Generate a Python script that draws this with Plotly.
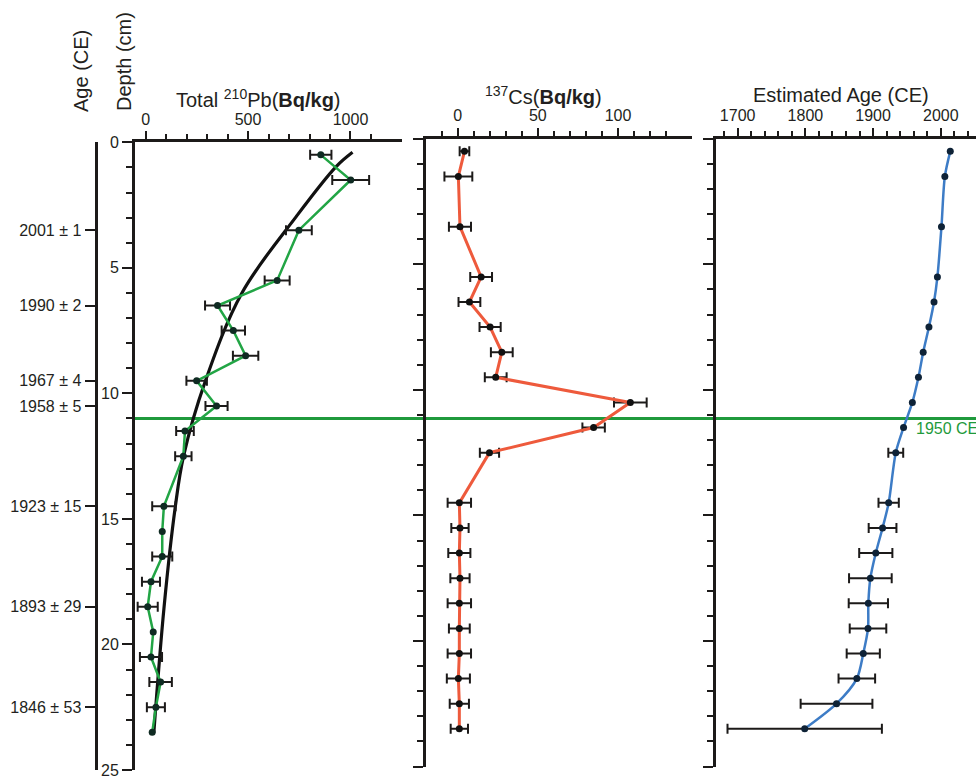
import plotly.graph_objects as go

# ---------------- data ----------------
depth_cm = [0.5, 1.5, 3.5, 5.5, 6.5, 7.5, 8.5, 9.5, 10.5, 11.5, 12.5,
            14.5, 15.5, 16.5, 17.5, 18.5, 19.5, 20.5, 21.5, 22.5, 23.5]

pb210 = [855, 1001, 748, 642, 351, 428, 488, 249, 346, 192, 184,
         89, 81, 81, 26, 10, 37, 26, 73, 50, 32]
pb210_err = [52, 90, 63, 61, 61, 57, 62, 50, 54, 43, 40,
             57, None, 49, 44, 49, None, 54, 55, 44, None]

pb_fit_depth = [0.4, 0.97, 2.96, 6.0, 9.5, 12.5, 14.5, 18.5, 23.5]
pb_fit_value = [1010, 930, 735, 470, 292, 185, 145, 90, 40]

cs137 = [4.2, 0.4, 1.4, 14.6, 7.3, 20.2, 27.5, 23.7, 107.7, 84.8, 19.8,
         1.0, 1.4, 1.0, 1.4, 1.0, 1.0, 1.0, 0.4, 1.0, 1.0]
cs137_err = [3, 8.7, 6.9, 6.8, 6.8, 6.6, 6.8, 6.8, 10.2, 7, 6,
             7.3, 5.4, 6.9, 6, 7.3, 6.5, 7.3, 7.2, 6, 5.4]

age_ce = [2014, 2006, 2001, 1995, 1990, 1982.5, 1974, 1967, 1958, 1945, 1933.5,
          1923, 1914, 1904, 1896, 1893, 1892.5, 1885.5, 1876, 1846, 1799]
age_err = [None, None, None, None, None, None, None, None, None, None, 11,
           15, 20.5, 24.5, 31.5, 29, 27, 24.5, 27, 53, 114]

age_label_depth = [3.5, 6.5, 9.5, 10.5, 14.5, 18.5, 22.5]
age_label_text = ["2001 ± 1", "1990 ± 2", "1967 ± 4", "1958 ± 5",
                  "1923 ± 15", "1893 ± 29", "1846 ± 53"]

marker_1950_depth = 11.0
marker_1950_text = "1950 CE"

# ---------------- styling ----------------
W, H = 976, 777
FONT = "Arial, 'Liberation Sans', sans-serif"
TXT = "#231f20"
AX = "#1c1a19"
GREEN = "#22a545"
LINE1950 = "#1f9a3c"
RED = "#ee5a3c"
BLUE = "#3d7cc6"
DEPTH_MAX = 25


def fx(p):
    return p / W


def fy(p):
    return 1 - p / H


def subset(vals, errs):
    d, v, e = [], [], []
    for di, vi, ei in zip(depth_cm, vals, errs):
        if ei is not None:
            d.append(di)
            v.append(vi)
            e.append(ei)
    return d, v, e


fig = go.Figure()

errbar = dict(type="data", symmetric=True, color=AX, thickness=2, width=5)

# ---- panel 1 : 210Pb ----
fig.add_trace(go.Scatter(x=pb_fit_value, y=pb_fit_depth, mode="lines",
                         line=dict(color="#111111", width=3.2, shape="spline", smoothing=1.0),
                         xaxis="x", yaxis="y", hoverinfo="skip"))
d, v, e = subset(pb210, pb210_err)
fig.add_trace(go.Scatter(x=v, y=d, mode="markers", marker=dict(size=1, color="rgba(0,0,0,0)"),
                         error_x=dict(array=e, **errbar), xaxis="x", yaxis="y"))
fig.add_trace(go.Scatter(x=pb210, y=depth_cm, mode="lines+markers",
                         line=dict(color=GREEN, width=2.5),
                         marker=dict(size=7, color="#0f2a22", line=dict(width=0)),
                         xaxis="x", yaxis="y"))
# invisible trace so that the age axis (y4) is drawn
fig.add_trace(go.Scatter(x=[None], y=[None], mode="markers", xaxis="x", yaxis="y4",
                         hoverinfo="skip"))

# ---- panel 2 : 137Cs ----
fig.add_trace(go.Scatter(x=cs137, y=depth_cm, mode="lines+markers",
                         line=dict(color=RED, width=3),
                         marker=dict(size=7, color="#111111"),
                         error_x=dict(array=cs137_err, **errbar),
                         xaxis="x2", yaxis="y2"))

# ---- panel 3 : age ----
d, v, e = subset(age_ce, age_err)
fig.add_trace(go.Scatter(x=v, y=d, mode="markers", marker=dict(size=1, color="rgba(0,0,0,0)"),
                         error_x=dict(array=e, **errbar), xaxis="x3", yaxis="y3"))
fig.add_trace(go.Scatter(x=age_ce, y=depth_cm, mode="lines+markers",
                         line=dict(color=BLUE, width=2.5, shape="spline", smoothing=0.8),
                         marker=dict(size=7, color="#0e2236"),
                         xaxis="x3", yaxis="y3"))

# ---------------- axes ----------------
p1_dom_y = [fy(770), fy(142.3)]
p23_dom_y = [fy(766.5), fy(138.8)]


def xax(dom, rng, dtick, tick0, minor_vals):
    return dict(domain=dom, range=rng, side="top", showline=True, linewidth=3, linecolor=AX,
                ticks="outside", ticklen=8, tickwidth=2, tickcolor=AX,
                tickmode="linear", tick0=tick0, dtick=dtick, automargin=False,
                minor=dict(tickmode="array", tickvals=minor_vals, ticks="outside",
                           ticklen=5, tickwidth=1.5, tickcolor=AX),
                showgrid=False, zeroline=False, fixedrange=True,
                tickfont=dict(family=FONT, size=16, color=TXT))


def yax(dom, labels, anchor):
    return dict(domain=dom, range=[DEPTH_MAX, 0], anchor=anchor, showline=True, linewidth=3,
                linecolor=AX, ticks="outside", ticklen=10, tickwidth=2, tickcolor=AX,
                automargin=False, tickmode="linear", tick0=0, dtick=5, showticklabels=labels,
                ticklabeloverflow="allow",
                minor=dict(tickmode="linear", tick0=0, dtick=1, ticks="outside",
                           ticklen=6, tickwidth=1.5, tickcolor=AX),
                showgrid=False, zeroline=False, fixedrange=True,
                tickfont=dict(family=FONT, size=16, color=TXT))


fig.update_layout(
    template="none",
    width=W, height=H, margin=dict(l=0, r=0, t=0, b=0, pad=0, autoexpand=False),
    paper_bgcolor="white", plot_bgcolor="rgba(0,0,0,0)", showlegend=False,
    font=dict(family=FONT, color=TXT),
    xaxis=xax([fx(135), fx(401.7)], [-52, 1250], 500, 0, list(range(100, 1200, 100))),
    xaxis2=dict(xax([fx(426), fx(691.7)], [-19.8, 146], 50, 0, list(range(-10, 140, 10))), anchor="y2"),
    xaxis3=dict(xax([fx(716), 1.0], [1668, 2052], 100, 1700, list(range(1680, 2060, 20))), anchor="y3"),
    yaxis=yax(p1_dom_y, True, "x"),
    yaxis2=yax(p23_dom_y, False, "x2"),
    yaxis3=yax(p23_dom_y, False, "x3"),
    yaxis4=dict(overlaying="y", anchor="free", position=fx(95.5), side="left",
                range=[DEPTH_MAX, 0],
                showline=True, linewidth=3, linecolor=AX, ticks="outside", ticklen=10,
                tickwidth=2, tickcolor=AX, tickmode="array", tickvals=age_label_depth,
                ticktext=age_label_text, showgrid=False, zeroline=False, fixedrange=True,
                automargin=False, tickfont=dict(family=FONT, size=16, color=TXT)),
)

# 1950 CE horizontal marker
fig.add_shape(type="line", xref="paper", yref="y", x0=fx(135), x1=1.0,
              y0=marker_1950_depth, y1=marker_1950_depth,
              line=dict(color=LINE1950, width=3), layer="below")
fig.add_annotation(xref="paper", yref="paper", x=fx(914), y=fy(428), xanchor="left",
                   yanchor="middle", text=marker_1950_text, showarrow=False,
                   font=dict(family=FONT, size=16, color=LINE1950))

# titles
title_font = dict(family=FONT, size=20, color=TXT)
ann = dict(xref="paper", yref="paper", xanchor="center", yanchor="middle", showarrow=False,
           font=title_font)
fig.add_annotation(x=fx(81), y=fy(71), text="Age (CE)", textangle=-90, **ann)
fig.add_annotation(x=fx(124), y=fy(62), text="Depth (cm)", textangle=-90, **ann)
fig.add_annotation(x=fx(258.5), y=fy(98), text="Total <sup>210</sup>Pb(<b>Bq/kg</b>)", **ann)
fig.add_annotation(x=fx(543), y=fy(96), text="<sup>137</sup>Cs(<b>Bq/kg</b>)", **ann)
fig.add_annotation(x=fx(841), y=fy(95), text="Estimated Age (CE)", **ann)

fig.write_html("out.html", config={"displayModeBar": False},
               post_script="document.body.style.margin='0';document.body.style.overflow='hidden';")
